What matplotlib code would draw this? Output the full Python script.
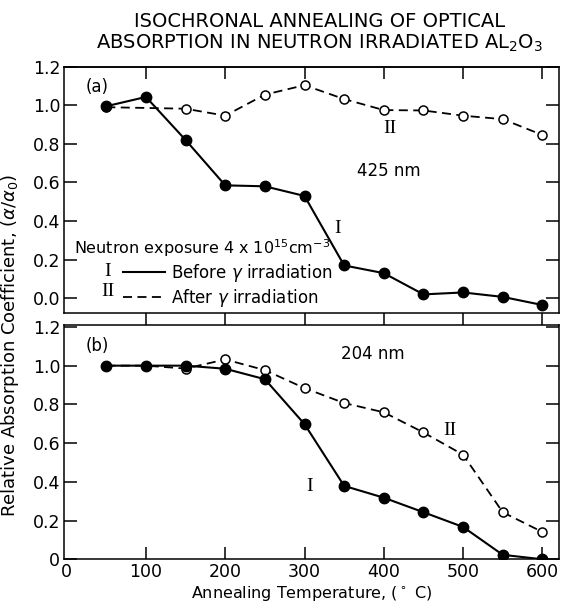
import matplotlib.pyplot as plt
from matplotlib.lines import Line2D

# Annealing temperatures (deg C)
temps = [50, 100, 150, 200, 250, 300, 350, 400, 450, 500, 550, 600]
temps_a_after = [50, 150, 200, 250, 300, 350, 400, 450, 500, 550, 600]

# (a) 425 nm
a_before = [0.995, 1.043, 0.82, 0.585, 0.58, 0.53, 0.17, 0.13, 0.02, 0.03, 0.007, -0.035]
a_after = [0.99, 0.982, 0.946, 1.055, 1.104, 1.032, 0.975, 0.973, 0.946, 0.928, 0.846]

# (b) 204 nm
b_before = [1.0, 1.0, 1.0, 0.984, 0.93, 0.698, 0.379, 0.318, 0.243, 0.167, 0.023, 0.0]
b_after = [1.0, 1.0, 0.985, 1.032, 0.977, 0.884, 0.807, 0.759, 0.655, 0.54, 0.243, 0.141]

xticks = [0, 100, 200, 300, 400, 500, 600]
yticks = [0, 0.2, 0.4, 0.6, 0.8, 1.0, 1.2]
a_ylabels = ["0.0", "0.2", "0.4", "0.6", "0.8", "1.0", "1.2"]
b_ylabels = ["0", "0.2", "0.4", "0.6", "0.8", "1.0", "1.2"]

plt.rcParams["font.family"] = "DejaVu Sans"
roman = "Liberation Serif"
dash = (0, (5, 3))

fig = plt.figure(figsize=(5.62, 6.06), dpi=100)
ax1 = fig.add_axes([0.1144, 0.4830, 0.8803, 0.4070])
ax2 = fig.add_axes([0.1144, 0.0771, 0.8803, 0.3866])


def hide_first_tick(axis):
    t = axis.get_major_ticks()[0]
    t.tick1line.set_visible(False)
    t.tick2line.set_visible(False)


def draw(ax, xb, yb, xa, ya):
    ax.plot(xa, ya, ls=dash, color="k", lw=1.3, marker="o", ms=6.5,
            mfc="white", mec="k", mew=1.1, zorder=3)
    ax.plot(xb, yb, ls="-", color="k", lw=1.5, marker="o", ms=7.5,
            mfc="k", mec="k", zorder=4)
    ax.set_xlim(-3, 621)
    ax.set_xticks(xticks)
    for s in ax.spines.values():
        s.set_linewidth(1.1)
    ax.tick_params(axis="y", direction="in", left=True, right=True,
                   length=9.5, width=1.1, labelsize=12.5, pad=3)


draw(ax1, temps, a_before, temps_a_after, a_after)
draw(ax2, temps, b_before, temps, b_after)

# panel (a)
ax1.set_ylim(-0.078, 1.2)
ax1.set_yticks(yticks, labels=a_ylabels)
ax1.tick_params(axis="x", direction="out", length=8.6, width=1.1,
                top=False, labelbottom=False)
hide_first_tick(ax1.xaxis)
sec = ax1.secondary_xaxis("top")
sec.set_xticks(xticks)
sec.tick_params(direction="in", length=8.6, width=1.1, labeltop=False)
sec.spines["top"].set_linewidth(1.1)
hide_first_tick(sec.xaxis)

ax1.text(24, 1.095, "(a)", fontsize=12, ha="left", va="center")
ax1.text(406, 0.66, "425 nm", fontsize=12, ha="center", va="center")
ax1.text(408, 0.877, "II", family=roman, fontsize=14, ha="center", va="center")
ax1.text(342, 0.364, "I", family=roman, fontsize=14, ha="center", va="center")
ax1.text(9.5, 0.26, "Neutron exposure 4 x 10$^{15}$cm$^{-3}$", fontsize=11.5,
         ha="left", va="center")
ax1.text(52, 0.137, "I", family=roman, fontsize=14, ha="center", va="center")
ax1.text(52, 0.033, "II", family=roman, fontsize=14, ha="center", va="center")
handles = [Line2D([], [], color="k", lw=1.5),
           Line2D([], [], color="k", lw=1.3, ls=dash)]
ax1.legend(handles, [r"Before $\gamma$ irradiation", r"After $\gamma$ irradiation"],
           loc="upper left", bbox_to_anchor=(0.119, 0.21), frameon=False,
           borderpad=0, borderaxespad=0, handlelength=2.5, handletextpad=0.35,
           labelspacing=0.2, fontsize=12)

# panel (b)
ax2.set_ylim(0, 1.21)
ax2.set_yticks(yticks, labels=b_ylabels)
ax2.tick_params(axis="x", direction="in", length=8.6, width=1.1,
                labelsize=12.5, pad=3)
hide_first_tick(ax2.xaxis)
ax2.text(24, 1.10, "(b)", fontsize=12, ha="left", va="center")
ax2.text(386, 1.06, "204 nm", fontsize=12, ha="center", va="center")
ax2.text(483, 0.666, "II", family=roman, fontsize=14, ha="center", va="center")
ax2.text(306, 0.375, "I", family=roman, fontsize=14, ha="center", va="center")
ax2.set_xlabel("Annealing Temperature, ($^\\circ$ C)", fontsize=11.5, labelpad=2)

fig.text(0.018, 0.43, r"Relative Absorption Coefficient, $(\alpha/\alpha_0)$",
         rotation=90, fontsize=13, ha="center", va="center")
fig.text(0.569, 0.98,
         "ISOCHRONAL ANNEALING OF OPTICAL\nABSORPTION IN NEUTRON IRRADIATED AL$_2$O$_3$",
         fontsize=14, ha="center", va="top", linespacing=1.1)

fig.savefig("out.png", dpi=100)
